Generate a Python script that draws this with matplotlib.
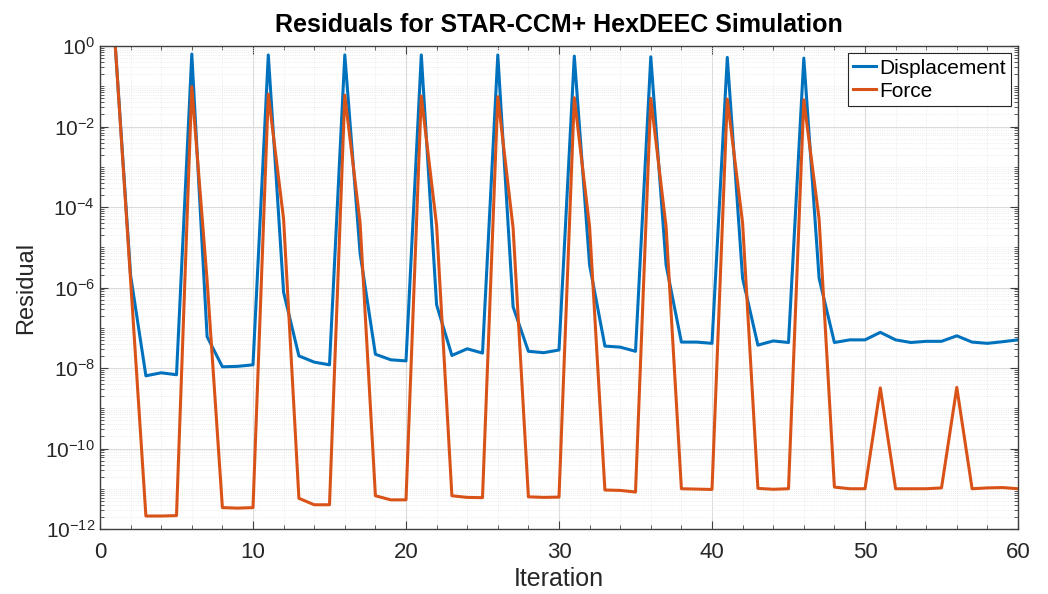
import numpy as np
import matplotlib
matplotlib.use('Agg')
import matplotlib.pyplot as plt
from matplotlib.ticker import LogLocator, MultipleLocator, NullFormatter

plt.rcParams['font.family'] = ['Liberation Sans', 'DejaVu Sans']

iteration = list(range(1, 61))

# residuals (log scale)
displacement = [
    1.0, 2e-6, 6.4e-9, 7.6e-9, 6.8e-9,
    0.63, 6e-8, 1.07e-8, 1.1e-8, 1.2e-8,
    0.6, 7.6e-7, 2e-8, 1.4e-8, 1.2e-8,
    0.6, 7e-6, 2.2e-8, 1.6e-8, 1.5e-8,
    0.6, 3.7e-7, 2.05e-8, 3e-8, 2.35e-8,
    0.6, 3.3e-7, 2.6e-8, 2.4e-8, 2.8e-8,
    0.56, 3.6e-6, 3.5e-8, 3.3e-8, 2.6e-8,
    0.54, 3.6e-6, 4.4e-8, 4.4e-8, 4.1e-8,
    0.52, 1.7e-6, 3.7e-8, 4.7e-8, 4.3e-8,
    0.5, 1.7e-6, 4.3e-8, 5e-8, 5e-8,
    7.7e-8, 5e-8, 4.3e-8, 4.6e-8, 4.6e-8,
    6.3e-8, 4.4e-8, 4.1e-8, 4.5e-8, 5e-8,
]
force = [
    1.0, 1.5e-6, 2.1e-12, 2.1e-12, 2.15e-12,
    0.098, 1.5e-6, 3.4e-12, 3.3e-12, 3.4e-12,
    0.064, 5e-5, 5.8e-12, 4e-12, 4e-12,
    0.06, 4e-5, 6.7e-12, 5.3e-12, 5.3e-12,
    0.057, 3.5e-5, 6.7e-12, 6.1e-12, 6e-12,
    0.055, 3e-5, 6.3e-12, 6.1e-12, 6.2e-12,
    0.052, 3.2e-5, 9.3e-12, 9.1e-12, 8.3e-12,
    0.05, 3.2e-5, 1e-11, 9.8e-12, 9.6e-12,
    0.048, 4e-5, 1.02e-11, 9.7e-12, 1e-11,
    0.046, 5e-5, 1.1e-11, 1e-11, 1e-11,
    3.2e-9, 1e-11, 1e-11, 1e-11, 1.05e-11,
    3.3e-9, 1e-11, 1.05e-11, 1.07e-11, 1e-11,
]

fig = plt.figure(figsize=(10.48, 5.94), dpi=100)
ax = fig.add_axes([100/1048, 1-529/594, 918/1048, 483/594])

ax.semilogy(iteration, displacement, color='#0072BD', lw=2.2, label='Displacement')
ax.semilogy(iteration, force, color='#D95319', lw=2.2, label='Force')

ax.set_xlim(0, 60)
ax.set_ylim(1e-12, 1)
ax.xaxis.set_major_locator(MultipleLocator(10))
ax.xaxis.set_minor_locator(MultipleLocator(2))
ax.yaxis.set_major_locator(LogLocator(base=100, numticks=10))
ax.yaxis.set_minor_locator(LogLocator(base=10, subs=np.arange(1, 10), numticks=20))
ax.yaxis.set_minor_formatter(NullFormatter())

ax.grid(True, which='major', color='#dcdcdc', lw=0.8)
ax.grid(True, which='minor', color='#e6e6e6', lw=0.6, ls=':')
ax.set_axisbelow(True)

ax.tick_params(which='both', direction='in', top=True, right=True,
               colors='#404040', labelcolor='#262626')
ax.tick_params(which='major', length=6, labelsize=15)
ax.tick_params(axis='x', which='major', labelsize=16, pad=9)
ax.tick_params(which='minor', length=3)
for s in ax.spines.values():
    s.set_color('#404040')
    s.set_linewidth(1.0)

ax.set_xlabel('Iteration', fontsize=18, color='#262626', labelpad=3)
ax.set_ylabel('Residual', fontsize=17, color='#262626', labelpad=6)
ax.set_title('Residuals for STAR-CCM+ HexDEEC Simulation', fontsize=18,
             fontweight='bold', color='black', pad=10)

leg = ax.legend(loc='upper right', fontsize=15, frameon=True, fancybox=False,
                handlelength=1.1, handletextpad=0.15, borderpad=0.25,
                labelspacing=0.2, borderaxespad=0.35)
leg.get_frame().set_edgecolor('#262626')
leg.get_frame().set_linewidth(0.8)
leg.get_frame().set_alpha(1)

fig.savefig('out.png', dpi=100)
